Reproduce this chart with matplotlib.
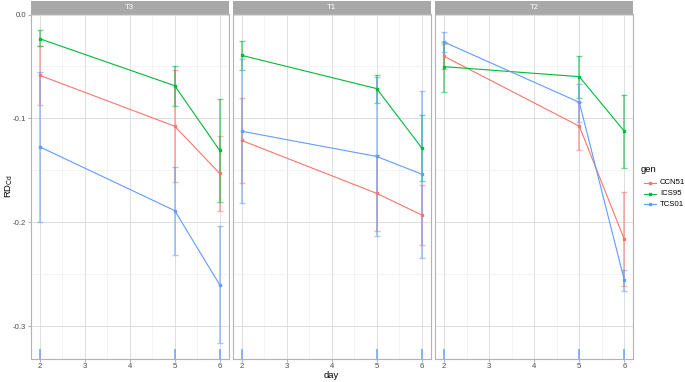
import matplotlib
matplotlib.use("Agg")
import matplotlib.pyplot as plt
import numpy as np

plt.rcParams["font.family"] = ["Liberation Sans", "DejaVu Sans"]
plt.rcParams["mathtext.fontset"] = "custom"
plt.rcParams["mathtext.rm"] = "Liberation Sans"

days = [2, 5, 6]
panels = ["T3", "T1", "T2"]
genes = ["CCN51", "ICS95", "TCS01"]
colors = {"CCN51": "#F8766D", "ICS95": "#00BA38", "TCS01": "#619CFF"}

# mean values per panel / gene (days 2, 5, 6)
mean_T3_CCN51 = [-0.0585, -0.1075, -0.1529]
mean_T3_ICS95 = [-0.0233, -0.0685, -0.1308]
mean_T3_TCS01 = [-0.1273, -0.1887, -0.2601]
mean_T1_CCN51 = [-0.1212, -0.1721, -0.1929]
mean_T1_ICS95 = [-0.0393, -0.0713, -0.1283]
mean_T1_TCS01 = [-0.1123, -0.1366, -0.1536]
mean_T2_CCN51 = [-0.0403, -0.1075, -0.2163]
mean_T2_ICS95 = [-0.0502, -0.0598, -0.1123]
mean_T2_TCS01 = [-0.0266, -0.0845, -0.2556]

# error bar upper / lower ends
up_T3_CCN51 = [-0.0304, -0.0531, -0.1168]
lo_T3_CCN51 = [-0.0867, -0.1616, -0.1894]
up_T3_ICS95 = [-0.0147, -0.0496, -0.0816]
lo_T3_ICS95 = [-0.0307, -0.0876, -0.1804]
up_T3_TCS01 = [-0.0550, -0.1465, -0.2038]
lo_T3_TCS01 = [-0.1993, -0.2310, -0.3164]
up_T1_CCN51 = [-0.0803, -0.1356, -0.1644]
lo_T1_CCN51 = [-0.1625, -0.2086, -0.2217]
up_T1_ICS95 = [-0.0259, -0.0582, -0.0969]
lo_T1_ICS95 = [-0.0531, -0.0848, -0.1603]
up_T1_TCS01 = [-0.0425, -0.0602, -0.0732]
lo_T1_TCS01 = [-0.1817, -0.2130, -0.2345]
up_T2_CCN51 = [-0.0281, -0.0842, -0.1711]
lo_T2_CCN51 = [-0.0525, -0.1308, -0.2617]
up_T2_ICS95 = [-0.0262, -0.0397, -0.0774]
lo_T2_ICS95 = [-0.0742, -0.0800, -0.1481]
up_T2_TCS01 = [-0.0170, -0.0669, -0.2454]
lo_T2_TCS01 = [-0.0362, -0.1030, -0.2658]

# clipped error bars reaching below the visible range (TCS01)
clip_top = -0.3215
clip_bottom = -0.40

data = {
    "T3": {"CCN51": (mean_T3_CCN51, up_T3_CCN51, lo_T3_CCN51),
           "ICS95": (mean_T3_ICS95, up_T3_ICS95, lo_T3_ICS95),
           "TCS01": (mean_T3_TCS01, up_T3_TCS01, lo_T3_TCS01)},
    "T1": {"CCN51": (mean_T1_CCN51, up_T1_CCN51, lo_T1_CCN51),
           "ICS95": (mean_T1_ICS95, up_T1_ICS95, lo_T1_ICS95),
           "TCS01": (mean_T1_TCS01, up_T1_TCS01, lo_T1_TCS01)},
    "T2": {"CCN51": (mean_T2_CCN51, up_T2_CCN51, lo_T2_CCN51),
           "ICS95": (mean_T2_ICS95, up_T2_ICS95, lo_T2_ICS95),
           "TCS01": (mean_T2_TCS01, up_T2_TCS01, lo_T2_TCS01)},
}

x_ticks = [2, 3, 4, 5, 6]
y_ticks = [0.0, -0.1, -0.2, -0.3]
y_tick_labels = ["0.0", "-0.1", "-0.2", "-0.3"]

W, H = 685, 382
fig = plt.figure(figsize=(W / 100, H / 100), dpi=100)

panel_lefts = [30.7, 232.7, 435.3]
panel_w = 198.0
top_px, bot_px = 14.0, 359.0
strip_top = 1.0
border_col = "#B3B3B3"
strip_col = "#A8A8A8"
grid_major = "#DEDEDE"
grid_minor = "#F0F0F0"
small = 5.6
title = 6.8

for i, (pname, lpx) in enumerate(zip(panels, panel_lefts)):
    ax = fig.add_axes([lpx / W, 1 - bot_px / H, panel_w / W, (bot_px - top_px) / H])
    ax.set_xlim(1.8, 6.2)
    ax.set_ylim(-0.3315, 0.0005)
    ax.set_xticks(x_ticks)
    ax.set_xticks([2.5, 3.5, 4.5, 5.5], minor=True)
    ax.set_yticks(y_ticks)
    ax.set_yticks([-0.05, -0.15, -0.25], minor=True)
    ax.grid(True, which="major", color=grid_major, linewidth=0.7)
    ax.grid(True, which="minor", color=grid_minor, linewidth=0.5)
    ax.set_axisbelow(True)
    for sp in ax.spines.values():
        sp.set_color(border_col)
        sp.set_linewidth(0.8)
    ax.tick_params(which="both", length=0, labelsize=small, labelcolor="#4D4D4D", pad=1.2)
    ax.tick_params(which="major", axis="x", length=2.0, color=border_col)
    ax.tick_params(which="major", axis="y", length=2.0, color=border_col)
    if i == 0:
        ax.set_yticklabels(y_tick_labels)
    else:
        ax.set_yticklabels([])
        ax.tick_params(axis="y", which="major", length=0)

    for g in genes:
        m, up, lo = data[pname][g]
        c = colors[g]
        m = np.array(m); up = np.array(up); lo = np.array(lo)
        ax.errorbar(days, m, yerr=[m - lo, up - m], fmt="none", ecolor=c,
                    elinewidth=1.3, capsize=2.2, capthick=1.0, alpha=0.55, zorder=2)
        ax.plot(days, m, color=c, linewidth=0.8, marker="s", markersize=2.0, zorder=3)
    # clipped TCS01 segments at the bottom
    ax.vlines(days, clip_bottom, clip_top, color=colors["TCS01"], linewidth=1.3,
              alpha=0.8, zorder=2)

    # strip
    sax = fig.add_axes([lpx / W, 1 - top_px / H, panel_w / W, (top_px - strip_top) / H])
    sax.set_xticks([]); sax.set_yticks([])
    sax.set_facecolor(strip_col)
    for sp in sax.spines.values():
        sp.set_visible(False)
    sax.text(0.5, 0.5, pname, color="white", fontsize=5.6, ha="center", va="center",
             transform=sax.transAxes)

fig.text(331 / W, 1 - 375 / H, "day", fontsize=title, ha="center", va="center", color="black")
fig.text(9 / W, 1 - 186 / H, r"RD$_{\mathrm{Cd}}$", fontsize=title, ha="center", va="center",
         rotation=90, color="black")

# legend
fig.text(641 / W, 1 - 169 / H, "gen", fontsize=title, ha="left", va="center")
for k, g in enumerate(genes):
    yy = 1 - (183 + k * 10.5) / H
    fig.lines.append(matplotlib.lines.Line2D([644 / W, 656 / W], [yy, yy], color=colors[g],
                                             linewidth=0.8, transform=fig.transFigure))
    fig.lines.append(matplotlib.lines.Line2D([650 / W], [yy], color=colors[g], marker="s",
                                             markersize=2.0, transform=fig.transFigure))
    fig.text(660 / W, yy, g, fontsize=small, ha="left", va="center", color="black")

fig.savefig("out.png", dpi=100, facecolor="white")
